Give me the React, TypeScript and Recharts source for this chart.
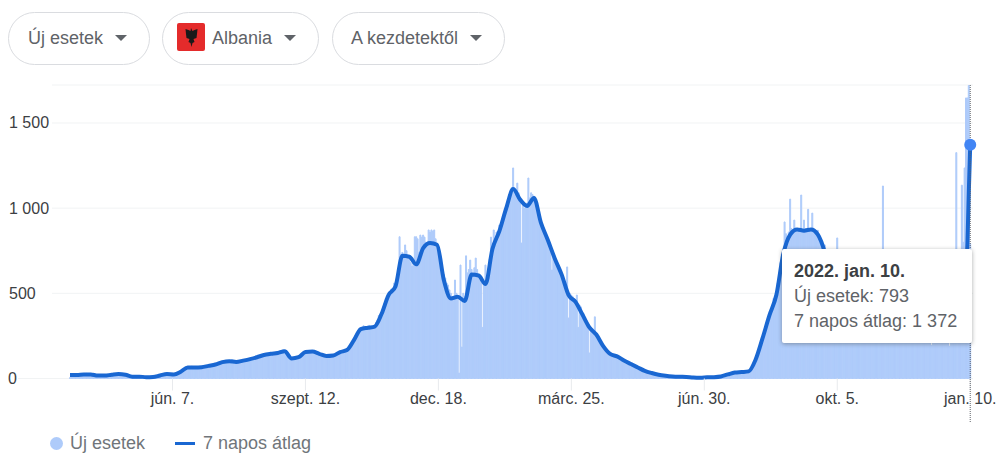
import React from 'react';
import { ComposedChart, Bar, Line, XAxis, YAxis, CartesianGrid, Tooltip } from 'recharts';

// Daily new cases (one row = 10 days)
const newCases = [
  5, 10, 12, 20, 28, 24, 15, 20, 28, 22,
  22, 28, 30, 18, 24, 26, 20, 30, 22, 16,
  14, 20, 18, 14, 16, 18, 22, 16, 14, 20,
  20, 26, 24, 28, 22, 30, 24, 26, 22, 20,
  24, 22, 26, 18, 14, 10, 12, 14, 8, 10,
  14, 9, 12, 8, 10, 8, 10, 6, 9, 8,
  8, 10, 7, 9, 10, 14, 20, 16, 18, 24,
  28, 24, 30, 22, 26, 24, 26, 22, 28, 24,
  30, 34, 42, 44, 50, 58, 70, 64, 72, 60,
  66, 62, 70, 64, 58, 68, 60, 70, 66, 62,
  72, 68, 78, 70, 76, 84, 78, 90, 80, 86,
  92, 98, 104, 94, 100, 106, 98, 110, 102, 96,
  100, 94, 92, 104, 96, 106, 110, 100, 116, 108,
  108, 116, 112, 122, 118, 120, 128, 124, 134, 130,
  132, 140, 136, 146, 142, 140, 150, 146, 152, 158,
  150, 158, 164, 160, 168, 162, 150, 128, 116, 110,
  112, 108, 116, 120, 118, 124, 132, 140, 148, 152,
  156, 150, 162, 154, 160, 158, 152, 146, 140, 148,
  142, 138, 132, 140, 130, 134, 126, 130, 124, 136,
  132, 140, 136, 150, 144, 152, 158, 166, 162, 170,
  172, 180, 196, 205, 220, 232, 250, 262, 280, 296,
  300, 292, 310, 288, 304, 296, 312, 300, 292, 306,
  310, 330, 344, 370, 360, 390, 420, 440, 470, 480,
  505, 500, 525, 530, 560, 545, 580, 640, 832, 730,
  740, 730, 784, 750, 720, 700, 680, 660, 690, 832,
  832, 820, 740, 842, 830, 842, 830, 800, 790, 872,
  860, 872, 865, 872, 820, 790, 770, 720, 690, 640,
  610, 590, 560, 549, 520, 500, 470, 460, 578, 500,
  470, 32, 666, 185, 500, 480, 720, 620, 640, 695,
  640, 600, 650, 707, 640, 600, 580, 560, 300, 560,
  666, 600, 640, 700, 830, 790, 872, 820, 860, 850,
  901, 880, 940, 960, 1000, 1010, 1040, 1080, 1100, 1120,
  1236, 1120, 1110, 1147, 1090, 1060, 795, 1020, 1000, 1010,
  1030, 1177, 1060, 1090, 1080, 1070, 1040, 1000, 980, 950,
  930, 900, 880, 860, 840, 820, 790, 770, 637, 730,
  710, 690, 670, 650, 630, 610, 590, 560, 540, 655,
  355, 500, 490, 480, 470, 460, 490, 300, 430, 420,
  390, 380, 360, 340, 320, 150, 300, 290, 270, 362,
  260, 250, 230, 215, 200, 190, 180, 170, 160, 150,
  144, 148, 138, 130, 134, 128, 120, 112, 118, 105,
  100, 108, 96, 90, 86, 82, 90, 76, 70, 66,
  62, 68, 58, 52, 50, 46, 48, 40, 36, 34,
  34, 30, 28, 26, 24, 22, 24, 20, 18, 16,
  16, 18, 14, 12, 14, 12, 10, 12, 10, 12,
  10, 9, 11, 10, 8, 9, 8, 10, 7, 6,
  6, 7, 5, 6, 5, 5, 4, 6, 5, 7,
  7, 6, 8, 7, 8, 8, 9, 8, 10, 11,
  12, 14, 16, 18, 22, 24, 26, 30, 32, 34,
  35, 38, 36, 34, 38, 38, 40, 36, 42, 40,
  42, 46, 44, 60, 80, 110, 135, 165, 190, 215,
  235, 270, 290, 330, 350, 370, 390, 430, 470, 480,
  490, 560, 620, 680, 730, 760, 919, 850, 800, 860,
  1053, 880, 860, 930, 870, 875, 880, 860, 1077, 870,
  930, 880, 860, 993, 880, 875, 971, 880, 860, 850,
  870, 840, 800, 780, 790, 784, 720, 640, 600, 580,
  560, 520, 500, 480, 825, 460, 440, 420, 400, 420,
  400, 410, 380, 390, 370, 350, 370, 340, 360, 330,
  350, 320, 340, 360, 330, 320, 310, 340, 330, 350,
  335, 320, 345, 360, 330, 340, 370, 1130, 350, 340,
  355, 370, 340, 360, 350, 345, 330, 360, 340, 330,
  320, 340, 310, 330, 350, 320, 300, 330, 290, 310,
  300, 280, 310, 290, 270, 290, 310, 280, 260, 300,
  270, 290, 195, 280, 250, 270, 240, 280, 260, 250,
  250, 270, 240, 260, 230, 190, 240, 270, 250, 240,
  1326, 400, 500, 700, 1135, 800, 1236, 1647, 1647, 1720,
  793,
];

// 7 day average, read every 5 days, plus the last jump
const avgValues = [
  20, 20, 24, 24, 17, 17, 22, 26, 22, 11,
  11, 8, 9, 18, 26, 24, 40, 65, 65, 66,
  74, 82, 96, 102, 97, 105, 114, 125, 138, 145,
  150, 160, 118, 125, 155, 158, 145, 132, 135, 155,
  167, 225, 290, 298, 305, 380, 490, 540, 720, 715,
  670, 765, 795, 785, 575, 470, 480, 455, 610, 605,
  555, 760, 865, 1000, 1112, 1050, 1013, 1060, 915, 813,
  705, 610, 490, 450, 375, 300, 258, 190, 144, 130,
  105, 85, 65, 45, 32, 22, 16, 12, 10, 9,
  6, 5, 7, 8, 12, 24, 35, 38, 42, 110,
  235, 370, 490, 730, 845, 875, 868, 875, 845, 740,
  560, 460, 400, 350, 330, 320, 335, 350, 345, 330,
  320, 300, 290, 280, 270, 260, 255, 250, 245, 400,
  800, 1100, 1372,
];
const lastAvgDays = [648, 649, 650];
const avgDays = [...avgValues.slice(0, -lastAvgDays.length).map((_, i) => i * 5), ...lastAvgDays];

const xTicks = [74, 170, 266, 362, 458, 554, 650];
const xLabels = ['jún. 7.', 'szept. 12.', 'dec. 18.', 'márc. 25.', 'jún. 30.', 'okt. 5.', 'jan. 10.'];
const yTicks = [0, 500, 1000, 1500];
const selectedDate = '2022. jan. 10.';
const casesName = 'Új esetek';
const avgName = '7 napos átlag';

const data = newCases.map((cases, day) => {
  const knot = avgDays.indexOf(day);
  return { day, cases, avg: knot === -1 ? null : avgValues[knot] };
});

const FONT = '"Liberation Sans", Arial, sans-serif';
const spaced = (n: number) => String(n).replace(/\B(?=(\d{3})+$)/g, ' ');

const YTick = ({ y, payload }: any) => (
  <g>
    {payload.value === 0 && <line x1={18} x2={52} y1={y} y2={y} stroke="#f1f3f4" />}
    <text x={payload.value === 0 ? 8 : 9} y={y + 5.5} textAnchor="start" fontSize={16} fill="#3c4043" fontFamily={FONT}>
      {spaced(payload.value)}
    </text>
  </g>
);

const DottedCursor = ({ points }: any) => {
  const x = points && points[0] ? points[0].x : 970;
  return <line x1={x} x2={x} y1={85} y2={422} stroke="#5f6368" strokeDasharray="1 1" />;
};

const ChartTooltip = ({ payload }: any) => {
  const row = payload && payload[0] ? payload[0].payload : data[data.length - 1];
  return (
    <div style={{ width: 190, height: 94, boxSizing: 'border-box', padding: '10px 12px', background: '#fff', borderRadius: 2, boxShadow: '0 1px 4px rgba(60,64,67,0.45)', fontFamily: FONT, fontSize: 18, lineHeight: '25px', color: '#5f6368', whiteSpace: 'nowrap' }}>
      <div style={{ fontWeight: 700, color: '#3c4043' }}>{selectedDate}</div>
      <div>{casesName}: {spaced(row.cases)}</div>
      <div>{avgName}: {spaced(row.avg)}</div>
    </div>
  );
};

const Pill = ({ left, width, textLeft, caretLeft, label, children }: any) => (
  <>
    <div style={{ position: 'absolute', left, top: 12, width, height: 53, boxSizing: 'border-box', border: '1px solid #dadce0', borderRadius: 27 }} />
    {children}
    <div style={{ position: 'absolute', left: textLeft, top: 28, fontFamily: FONT, fontSize: 18, lineHeight: '20px', color: '#5f6368', whiteSpace: 'nowrap' }}>{label}</div>
    <div style={{ position: 'absolute', left: caretLeft, top: 35, width: 0, height: 0, borderLeft: '6.5px solid transparent', borderRight: '6.5px solid transparent', borderTop: '6px solid #5f6368' }} />
  </>
);

const App = () => (
  <div style={{ position: 'absolute', left: 0, top: 0, width: 997, height: 466, background: '#fff', overflow: 'hidden' }}>
    <Pill left={8} width={142} textLeft={28} caretLeft={115} label={casesName} />
    <Pill left={162} width={157} textLeft={212} caretLeft={284} label="Albania">
      <svg style={{ position: 'absolute', left: 177, top: 23 }} width={28} height={28} viewBox="0 0 28 28">
        <rect x={0} y={0} width={28} height={28} rx={2} fill="#e42b2b" />
        <path d="M14 5l1.5 3 2-1 3-1-.5 5-.5 4-3 1 1 3-2 1-1 4-1-4-2-1 1-3-3-1-.5-4-.5-5 3 1 2 1z" fill="#1a1a1a" />
      </svg>
    </Pill>
    <Pill left={332} width={173} textLeft={351} caretLeft={470} label="A kezdetektől" />

    <div style={{ position: 'absolute', left: 0, top: 0 }}>
      <ComposedChart width={997} height={466} data={data} margin={{ top: 85, right: 24, bottom: 0, left: 0 }}>
        <CartesianGrid vertical={false} stroke="#f1f3f4" />
        <XAxis
          dataKey="day"
          type="number"
          domain={[-13, 652]}
          ticks={xTicks}
          interval={0}
          tickFormatter={(d: number) => xLabels[xTicks.indexOf(d)]}
          axisLine={false}
          tickSize={12}
          tickLine={{ stroke: '#e8eaed' }}
          tick={{ fontSize: 16, fill: '#3c4043', fontFamily: FONT }}
          height={87.5}
        />
        <YAxis width={52} domain={[0, 1723]} ticks={yTicks} interval={0} axisLine={false} tickLine={false} tick={<YTick />} />
        <Tooltip
          active
          defaultIndex={650}
          position={{ x: 782, y: 249 }}
          content={<ChartTooltip />}
          cursor={<DottedCursor />}
          isAnimationActive={false}
          wrapperStyle={{ zIndex: 5 }}
        />
        <Bar dataKey="cases" fill="#aecbfa" stroke="#aecbfa" strokeWidth={1} isAnimationActive={false} />
        <Line
          dataKey="avg"
          type="monotone"
          connectNulls
          stroke="#1967d2"
          strokeWidth={4}
          dot={false}
          activeDot={{ r: 6, fill: '#4285f4', stroke: 'none' }}
          isAnimationActive={false}
        />
      </ComposedChart>
    </div>

    <div style={{ position: 'absolute', left: 50, top: 437, width: 13, height: 13, borderRadius: '50%', background: '#aecbfa' }} />
    <div style={{ position: 'absolute', left: 70, top: 433, fontFamily: FONT, fontSize: 18, lineHeight: '20px', color: '#70757a' }}>{casesName}</div>
    <div style={{ position: 'absolute', left: 175, top: 442, width: 20, height: 3, background: '#1967d2' }} />
    <div style={{ position: 'absolute', left: 203, top: 433, fontFamily: FONT, fontSize: 18, lineHeight: '20px', color: '#70757a' }}>{avgName}</div>
  </div>
);

export default App;
